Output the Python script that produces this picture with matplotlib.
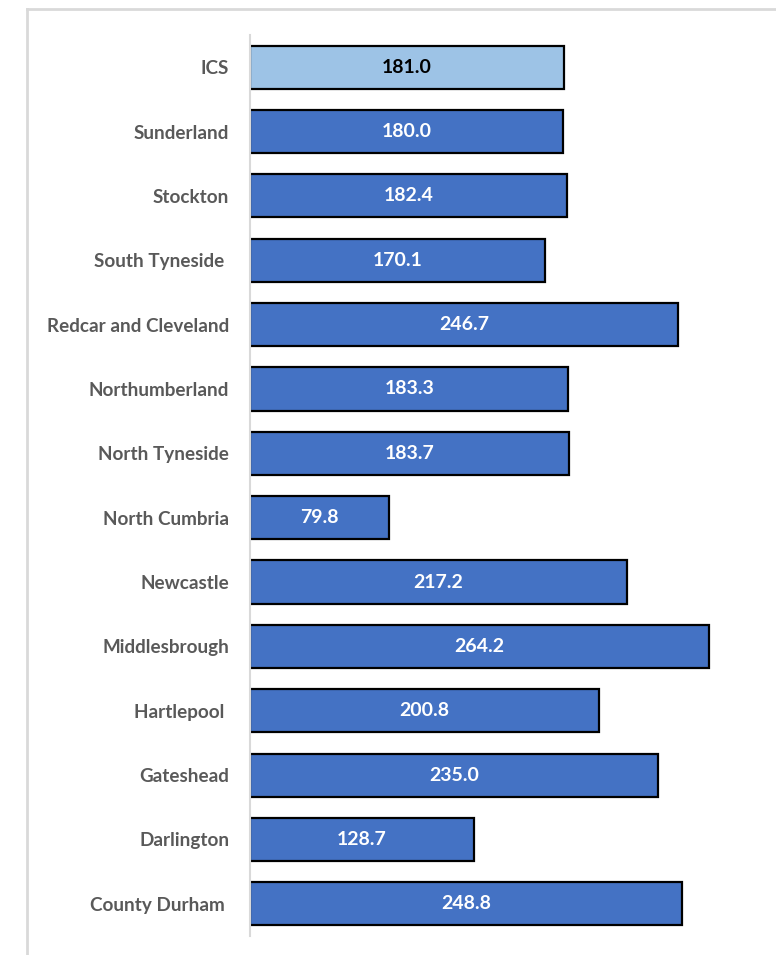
import matplotlib.pyplot as plt
from matplotlib.lines import Line2D

areas = ['ICS', 'Sunderland', 'Stockton', 'South Tyneside ', 'Redcar and Cleveland',
         'Northumberland', 'North Tyneside', 'North Cumbria', 'Newcastle',
         'Middlesbrough', 'Hartlepool ', 'Gateshead', 'Darlington', 'County Durham ']
rates = [181.0, 180.0, 182.4, 170.1, 246.7, 183.3, 183.7, 79.8, 217.2,
         264.2, 200.8, 235.0, 128.7, 248.8]

plt.rcParams['font.family'] = ['Lato', 'DejaVu Sans']

fig = plt.figure(figsize=(7.76, 9.55), dpi=100)
ax = fig.add_axes([250 / 776, 19 / 955, 521 / 776, 901 / 955])

# outer chart border (cropped on the right and bottom)
fig.add_artist(Line2D([27 / 776, 27 / 776], [0, 1 - 9 / 955], color='#d9d9d9', lw=2, transform=fig.transFigure))
fig.add_artist(Line2D([27 / 776, 1], [1 - 9 / 955, 1 - 9 / 955], color='#d9d9d9', lw=2, transform=fig.transFigure))

colors = ['#9dc3e6'] + ['#4472c4'] * (len(areas) - 1)
ypos = list(range(len(areas)))
bars = ax.barh(ypos, rates, height=0.67, color=colors, edgecolor='black', linewidth=1.6)

for i, (b, v) in enumerate(zip(bars, rates)):
    ax.text(v / 2, i, f'{v:.1f}', ha='center', va='center', fontsize=14,
            fontweight='bold', color='black' if i == 0 else 'white')

ax.set_ylim(len(areas) - 0.5, -0.5)
ax.set_xlim(0, 300)
ax.set_yticks(ypos)
ax.set_yticklabels(areas, fontsize=13.6, fontweight='bold', color='#595959')
ax.tick_params(axis='y', length=0, pad=15)
ax.set_xticks([])
for s in ['top', 'right', 'bottom']:
    ax.spines[s].set_visible(False)
ax.spines['left'].set_color('#d9d9d9')
ax.spines['left'].set_linewidth(1.5)

fig.savefig('out.png', dpi=100)
